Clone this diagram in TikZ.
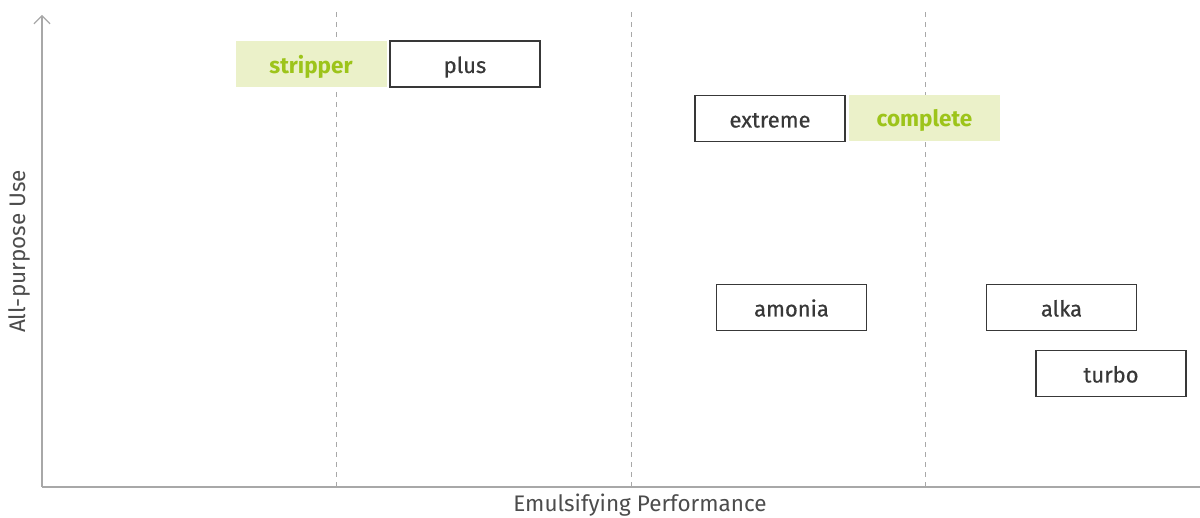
\documentclass[tikz,border=0pt]{standalone}
\usepackage{fontspec}
\setmainfont{Fira Sans}
\newfontfamily\boxfont{Fira Sans}[FakeBold=0.5]
\usetikzlibrary{arrows.meta}
\definecolor{axisgray}{HTML}{A8A8A8}
\definecolor{txtdark}{HTML}{383838}
\definecolor{limegreen}{HTML}{9DC41A}
\definecolor{limefill}{HTML}{EBF1C9}
\tikzset{
  prodbox/.style={draw=txtdark, line width=1.2pt, fill=white, minimum width=150pt, minimum height=46pt, inner sep=0pt, text height=18pt, text depth=0pt, text=txtdark, font=\boxfont\fontsize{22}{24}\selectfont},
  highbox/.style={fill=limefill, minimum width=151pt, minimum height=46pt, inner sep=0pt, text height=18pt, text depth=0pt, text=limegreen, font=\fontsize{22.5}{24}\selectfont\bfseries},
  axisline/.style={draw=axisgray, line width=1.2pt},
  gridline/.style={draw=axisgray, line width=1pt, dash pattern=on 5pt off 5pt},
  axislabel/.style={text=txtdark!90, font=\fontsize{22.5}{25}\selectfont, inner sep=0pt}
}
\begin{document}
\begin{tikzpicture}[x=1pt,y=1pt]
\useasboundingbox (0,0) rectangle (1200,518);
% grid
\coordinate (g1t) at (336,506); \coordinate (g1b) at (336,31);
\coordinate (g2t) at (631,506); \coordinate (g2b) at (631,31);
\coordinate (g3t) at (925,506); \coordinate (g3b) at (925,31);
\draw[gridline] (g1b) -- (g1t);
\draw[gridline] (g2b) -- (g2t);
\draw[gridline] (g3b) -- (g3t);
% axes
\coordinate (origin) at (42,31);
\coordinate (ytop) at (42,503);
\coordinate (xend) at (1200,31);
\draw[axisline, -{Straight Barb[length=8pt,width=16pt,line width=1.2pt]}] (origin) -- (ytop);
\draw[axisline] (origin) -- (xend);
\node[axislabel, anchor=base] (xlab) at (640,6) {Emulsifying Performance};
\node[axislabel, rotate=90, anchor=base] (ylab) at (25,266.5) {All-purpose Use};
% boxes
\node[highbox] (stripper) at (311,453.5) {stripper};
\node[prodbox] (plus) at (465,454) {plus};
\node[prodbox] (extreme) at (770,399.5) {extreme};
\node[highbox] (complete) at (924.5,400) {complete};
\node[prodbox] (amonia) at (791.5,210.5) {amonia};
\node[prodbox] (alka) at (1061.5,210.5) {alka};
\node[prodbox] (turbo) at (1111,144.5) {turbo};
\end{tikzpicture}
\end{document}
